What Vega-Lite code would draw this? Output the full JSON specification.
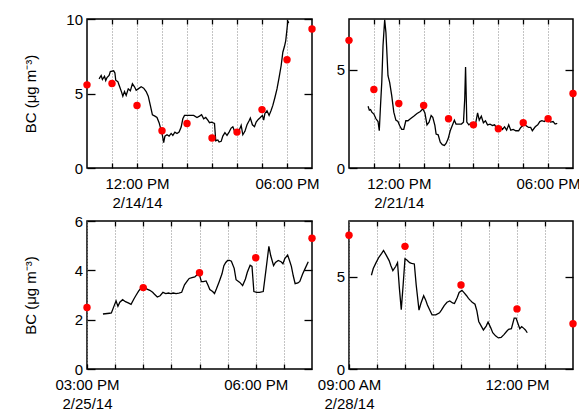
{
"$schema": "https://vega.github.io/schema/vega-lite/v6.json",
"padding": {"left": 22, "top": 11, "right": 5, "bottom": 5},
"background": "white",
"config": {
  "view": {"stroke": "black", "strokeWidth": 1.5},
  "font": "Liberation Sans",
  "axis": {"domain": false, "labelFont": "Liberation Sans", "labelFontSize": 15, "labelColor": "black", "tickColor": "black", "tickWidth": 1.3, "titleFont": "Liberation Sans", "titleFontSize": 15, "titleFontWeight": "normal", "titleColor": "black"}
},
"datasets": {
"l1": [
{"t":"2014-02-14T10:29","bc":5.98},{"t":"2014-02-14T10:34","bc":6.21},{"t":"2014-02-14T10:37","bc":5.94},{"t":"2014-02-14T10:42","bc":6.16},{"t":"2014-02-14T10:45","bc":5.87},{"t":"2014-02-14T10:48","bc":6.07},{"t":"2014-02-14T10:53","bc":6.21},{"t":"2014-02-14T10:56","bc":6.47},{"t":"2014-02-14T11:04","bc":6.52},{"t":"2014-02-14T11:07","bc":6.38},{"t":"2014-02-14T11:09","bc":5.89},{"t":"2014-02-14T11:14","bc":5.80},{"t":"2014-02-14T11:18","bc":5.49},{"t":"2014-02-14T11:23","bc":5.09},{"t":"2014-02-14T11:26","bc":4.82},{"t":"2014-02-14T11:30","bc":5.13},{"t":"2014-02-14T11:34","bc":4.87},{"t":"2014-02-14T11:39","bc":5.31},{"t":"2014-02-14T11:44","bc":5.18},{"t":"2014-02-14T11:49","bc":5.65},{"t":"2014-02-14T11:54","bc":5.45},{"t":"2014-02-14T11:58","bc":5.22},{"t":"2014-02-14T12:03","bc":5.31},{"t":"2014-02-14T12:10","bc":5.45},{"t":"2014-02-14T12:16","bc":5.36},{"t":"2014-02-14T12:22","bc":5.13},{"t":"2014-02-14T12:27","bc":4.82},{"t":"2014-02-14T12:32","bc":4.20},{"t":"2014-02-14T12:37","bc":3.57},{"t":"2014-02-14T12:43","bc":3.48},{"t":"2014-02-14T12:48","bc":3.39},{"t":"2014-02-14T12:53","bc":3.04},{"t":"2014-02-14T12:58","bc":2.52},{"t":"2014-02-14T13:01","bc":2.19},{"t":"2014-02-14T13:04","bc":1.70},{"t":"2014-02-14T13:07","bc":2.14},{"t":"2014-02-14T13:12","bc":2.23},{"t":"2014-02-14T13:17","bc":2.14},{"t":"2014-02-14T13:22","bc":2.32},{"t":"2014-02-14T13:26","bc":2.19},{"t":"2014-02-14T13:31","bc":2.41},{"t":"2014-02-14T13:36","bc":2.32},{"t":"2014-02-14T13:41","bc":2.41},{"t":"2014-02-14T13:46","bc":2.75},{"t":"2014-02-14T13:50","bc":3.30},{"t":"2014-02-14T13:54","bc":3.53},{"t":"2014-02-14T14:05","bc":3.53},{"t":"2014-02-14T14:16","bc":3.53},{"t":"2014-02-14T14:24","bc":3.39},{"t":"2014-02-14T14:30","bc":3.48},{"t":"2014-02-14T14:35","bc":3.57},{"t":"2014-02-14T14:40","bc":3.30},{"t":"2014-02-14T14:45","bc":3.39},{"t":"2014-02-14T14:50","bc":3.21},{"t":"2014-02-14T14:54","bc":3.04},{"t":"2014-02-14T14:59","bc":3.08},{"t":"2014-02-14T15:06","bc":2.99},{"t":"2014-02-14T15:09","bc":1.83},{"t":"2014-02-14T15:14","bc":1.88},{"t":"2014-02-14T15:17","bc":1.74},{"t":"2014-02-14T15:22","bc":1.79},{"t":"2014-02-14T15:26","bc":2.14},{"t":"2014-02-14T15:31","bc":2.37},{"t":"2014-02-14T15:36","bc":2.19},{"t":"2014-02-14T15:41","bc":2.41},{"t":"2014-02-14T15:46","bc":2.68},{"t":"2014-02-14T15:50","bc":2.77},{"t":"2014-02-14T15:55","bc":2.41},{"t":"2014-02-14T16:00","bc":2.32},{"t":"2014-02-14T16:05","bc":2.50},{"t":"2014-02-14T16:10","bc":2.86},{"t":"2014-02-14T16:14","bc":2.23},{"t":"2014-02-14T16:19","bc":2.46},{"t":"2014-02-14T16:24","bc":2.90},{"t":"2014-02-14T16:29","bc":3.17},{"t":"2014-02-14T16:32","bc":3.35},{"t":"2014-02-14T16:37","bc":2.90},{"t":"2014-02-14T16:42","bc":2.77},{"t":"2014-02-14T16:46","bc":3.08},{"t":"2014-02-14T16:51","bc":3.26},{"t":"2014-02-14T16:56","bc":3.39},{"t":"2014-02-14T17:01","bc":3.53},{"t":"2014-02-14T17:04","bc":3.21},{"t":"2014-02-14T17:07","bc":3.66},{"t":"2014-02-14T17:12","bc":3.84},{"t":"2014-02-14T17:17","bc":3.53},{"t":"2014-02-14T17:22","bc":3.88},{"t":"2014-02-14T17:26","bc":4.20},{"t":"2014-02-14T17:31","bc":4.73},{"t":"2014-02-14T17:36","bc":5.31},{"t":"2014-02-14T17:41","bc":6.07},{"t":"2014-02-14T17:46","bc":6.88},{"t":"2014-02-14T17:50","bc":7.77},{"t":"2014-02-14T17:54","bc":8.17},{"t":"2014-02-14T17:57","bc":8.55},{"t":"2014-02-14T18:00","bc":9.33},{"t":"2014-02-14T18:02","bc":9.87},{"t":"2014-02-14T18:04","bc":9.73}
],
"d1": [
{"t":"2014-02-14T10:00","bc":5.58},{"t":"2014-02-14T11:00","bc":5.67},{"t":"2014-02-14T12:00","bc":4.19},{"t":"2014-02-14T13:00","bc":2.5},{"t":"2014-02-14T14:00","bc":2.99},{"t":"2014-02-14T15:00","bc":2.01},{"t":"2014-02-14T16:00","bc":2.41},{"t":"2014-02-14T17:00","bc":3.92},{"t":"2014-02-14T18:00","bc":7.27},{"t":"2014-02-14T19:00","bc":9.33}
],
"l2": [
{"t":"2014-02-21T10:46","bc":3.15},{"t":"2014-02-21T10:49","bc":2.95},{"t":"2014-02-21T10:52","bc":2.98},{"t":"2014-02-21T10:55","bc":2.85},{"t":"2014-02-21T11:00","bc":2.75},{"t":"2014-02-21T11:05","bc":2.51},{"t":"2014-02-21T11:10","bc":2.37},{"t":"2014-02-21T11:13","bc":1.90},{"t":"2014-02-21T11:16","bc":3.19},{"t":"2014-02-21T11:19","bc":4.37},{"t":"2014-02-21T11:22","bc":6.24},{"t":"2014-02-21T11:26","bc":7.56},{"t":"2014-02-21T11:29","bc":6.92},{"t":"2014-02-21T11:34","bc":4.71},{"t":"2014-02-21T11:38","bc":4.37},{"t":"2014-02-21T11:43","bc":3.69},{"t":"2014-02-21T11:48","bc":2.85},{"t":"2014-02-21T11:53","bc":2.44},{"t":"2014-02-21T11:58","bc":2.37},{"t":"2014-02-21T12:02","bc":2.17},{"t":"2014-02-21T12:07","bc":1.97},{"t":"2014-02-21T12:12","bc":1.97},{"t":"2014-02-21T12:17","bc":2.41},{"t":"2014-02-21T12:22","bc":2.41},{"t":"2014-02-21T12:28","bc":2.51},{"t":"2014-02-21T12:36","bc":2.64},{"t":"2014-02-21T12:44","bc":2.78},{"t":"2014-02-21T12:52","bc":2.88},{"t":"2014-02-21T12:58","bc":3.02},{"t":"2014-02-21T13:03","bc":2.81},{"t":"2014-02-21T13:08","bc":2.20},{"t":"2014-02-21T13:13","bc":2.34},{"t":"2014-02-21T13:18","bc":2.68},{"t":"2014-02-21T13:22","bc":2.58},{"t":"2014-02-21T13:27","bc":2.17},{"t":"2014-02-21T13:30","bc":1.73},{"t":"2014-02-21T13:35","bc":1.69},{"t":"2014-02-21T13:40","bc":1.32},{"t":"2014-02-21T13:45","bc":1.19},{"t":"2014-02-21T13:50","bc":1.15},{"t":"2014-02-21T13:54","bc":1.25},{"t":"2014-02-21T13:59","bc":1.49},{"t":"2014-02-21T14:04","bc":1.90},{"t":"2014-02-21T14:09","bc":2.17},{"t":"2014-02-21T14:14","bc":2.44},{"t":"2014-02-21T14:18","bc":2.24},{"t":"2014-02-21T14:25","bc":2.24},{"t":"2014-02-21T14:31","bc":2.24},{"t":"2014-02-21T14:36","bc":2.34},{"t":"2014-02-21T14:39","bc":3.53},{"t":"2014-02-21T14:41","bc":5.15},{"t":"2014-02-21T14:44","bc":2.34},{"t":"2014-02-21T14:49","bc":2.20},{"t":"2014-02-21T14:55","bc":2.31},{"t":"2014-02-21T15:00","bc":2.20},{"t":"2014-02-21T15:05","bc":2.24},{"t":"2014-02-21T15:10","bc":2.81},{"t":"2014-02-21T15:14","bc":2.44},{"t":"2014-02-21T15:19","bc":2.64},{"t":"2014-02-21T15:24","bc":2.31},{"t":"2014-02-21T15:29","bc":2.41},{"t":"2014-02-21T15:34","bc":2.20},{"t":"2014-02-21T15:40","bc":2.24},{"t":"2014-02-21T15:46","bc":2.17},{"t":"2014-02-21T15:51","bc":2.20},{"t":"2014-02-21T15:56","bc":2.03},{"t":"2014-02-21T16:01","bc":1.97},{"t":"2014-02-21T16:06","bc":2.10},{"t":"2014-02-21T16:10","bc":1.97},{"t":"2014-02-21T16:15","bc":2.10},{"t":"2014-02-21T16:20","bc":1.93},{"t":"2014-02-21T16:25","bc":2.20},{"t":"2014-02-21T16:30","bc":1.93},{"t":"2014-02-21T16:36","bc":1.97},{"t":"2014-02-21T16:42","bc":1.90},{"t":"2014-02-21T16:49","bc":1.90},{"t":"2014-02-21T16:54","bc":2.07},{"t":"2014-02-21T17:00","bc":2.17},{"t":"2014-02-21T17:06","bc":2.17},{"t":"2014-02-21T17:13","bc":2.07},{"t":"2014-02-21T17:18","bc":2.07},{"t":"2014-02-21T17:22","bc":1.90},{"t":"2014-02-21T17:29","bc":2.10},{"t":"2014-02-21T17:35","bc":2.20},{"t":"2014-02-21T17:40","bc":2.37},{"t":"2014-02-21T17:45","bc":2.41},{"t":"2014-02-21T17:51","bc":2.37},{"t":"2014-02-21T17:56","bc":2.47},{"t":"2014-02-21T18:01","bc":2.44},{"t":"2014-02-21T18:06","bc":2.34},{"t":"2014-02-21T18:12","bc":2.37},{"t":"2014-02-21T18:17","bc":2.24},{"t":"2014-02-21T18:22","bc":2.27}
],
"d2": [
{"t":"2014-02-21T10:00","bc":6.51},{"t":"2014-02-21T11:00","bc":4.0},{"t":"2014-02-21T12:00","bc":3.29},{"t":"2014-02-21T13:00","bc":3.19},{"t":"2014-02-21T14:00","bc":2.51},{"t":"2014-02-21T15:00","bc":2.2},{"t":"2014-02-21T16:00","bc":2.0},{"t":"2014-02-21T17:00","bc":2.31},{"t":"2014-02-21T18:00","bc":2.51},{"t":"2014-02-21T19:00","bc":3.8}
],
"l3": [
{"t":"2014-02-25T15:17","bc":2.23},{"t":"2014-02-25T15:24","bc":2.26},{"t":"2014-02-25T15:26","bc":2.27},{"t":"2014-02-25T15:29","bc":2.57},{"t":"2014-02-25T15:31","bc":2.76},{"t":"2014-02-25T15:33","bc":2.54},{"t":"2014-02-25T15:35","bc":2.71},{"t":"2014-02-25T15:38","bc":2.81},{"t":"2014-02-25T15:41","bc":2.73},{"t":"2014-02-25T15:44","bc":2.68},{"t":"2014-02-25T15:47","bc":2.62},{"t":"2014-02-25T15:50","bc":2.84},{"t":"2014-02-25T15:52","bc":2.97},{"t":"2014-02-25T15:55","bc":3.16},{"t":"2014-02-25T15:58","bc":3.30},{"t":"2014-02-25T16:01","bc":3.35},{"t":"2014-02-25T16:04","bc":3.24},{"t":"2014-02-25T16:07","bc":3.19},{"t":"2014-02-25T16:10","bc":3.11},{"t":"2014-02-25T16:12","bc":3.03},{"t":"2014-02-25T16:15","bc":2.92},{"t":"2014-02-25T16:18","bc":2.97},{"t":"2014-02-25T16:21","bc":3.11},{"t":"2014-02-25T16:24","bc":3.06},{"t":"2014-02-25T16:27","bc":3.08},{"t":"2014-02-25T16:29","bc":3.06},{"t":"2014-02-25T16:32","bc":3.08},{"t":"2014-02-25T16:35","bc":3.06},{"t":"2014-02-25T16:38","bc":3.08},{"t":"2014-02-25T16:41","bc":3.11},{"t":"2014-02-25T16:44","bc":3.41},{"t":"2014-02-25T16:47","bc":3.57},{"t":"2014-02-25T16:49","bc":3.67},{"t":"2014-02-25T16:52","bc":3.70},{"t":"2014-02-25T16:55","bc":3.73},{"t":"2014-02-25T16:58","bc":3.84},{"t":"2014-02-25T17:00","bc":3.81},{"t":"2014-02-25T17:02","bc":3.54},{"t":"2014-02-25T17:04","bc":3.54},{"t":"2014-02-25T17:07","bc":3.57},{"t":"2014-02-25T17:09","bc":3.41},{"t":"2014-02-25T17:11","bc":3.22},{"t":"2014-02-25T17:14","bc":3.14},{"t":"2014-02-25T17:16","bc":3.06},{"t":"2014-02-25T17:18","bc":3.24},{"t":"2014-02-25T17:21","bc":3.54},{"t":"2014-02-25T17:24","bc":3.86},{"t":"2014-02-25T17:26","bc":4.19},{"t":"2014-02-25T17:28","bc":4.32},{"t":"2014-02-25T17:30","bc":4.40},{"t":"2014-02-25T17:32","bc":4.40},{"t":"2014-02-25T17:34","bc":4.37},{"t":"2014-02-25T17:37","bc":4.08},{"t":"2014-02-25T17:39","bc":3.62},{"t":"2014-02-25T17:43","bc":3.51},{"t":"2014-02-25T17:46","bc":3.38},{"t":"2014-02-25T17:49","bc":3.65},{"t":"2014-02-25T17:51","bc":3.92},{"t":"2014-02-25T17:54","bc":4.21},{"t":"2014-02-25T17:56","bc":4.16},{"t":"2014-02-25T17:58","bc":3.14},{"t":"2014-02-25T18:01","bc":3.11},{"t":"2014-02-25T18:04","bc":3.11},{"t":"2014-02-25T18:08","bc":3.14},{"t":"2014-02-25T18:11","bc":4.05},{"t":"2014-02-25T18:14","bc":4.97},{"t":"2014-02-25T18:16","bc":4.59},{"t":"2014-02-25T18:19","bc":4.19},{"t":"2014-02-25T18:21","bc":4.32},{"t":"2014-02-25T18:24","bc":4.40},{"t":"2014-02-25T18:27","bc":4.35},{"t":"2014-02-25T18:29","bc":4.27},{"t":"2014-02-25T18:31","bc":4.48},{"t":"2014-02-25T18:34","bc":4.62},{"t":"2014-02-25T18:36","bc":4.40},{"t":"2014-02-25T18:38","bc":4.16},{"t":"2014-02-25T18:40","bc":3.78},{"t":"2014-02-25T18:42","bc":3.46},{"t":"2014-02-25T18:45","bc":3.49},{"t":"2014-02-25T18:47","bc":3.55},{"t":"2014-02-25T18:50","bc":3.85},{"t":"2014-02-25T18:53","bc":4.10},{"t":"2014-02-25T18:56","bc":4.35}
],
"d3": [
{"t":"2014-02-25T15:00","bc":2.49},{"t":"2014-02-25T16:00","bc":3.3},{"t":"2014-02-25T17:00","bc":3.9},{"t":"2014-02-25T18:00","bc":4.51},{"t":"2014-02-25T19:00","bc":5.3}
],
"l4": [
{"t":"2014-02-28T09:24","bc":5.07},{"t":"2014-02-28T09:26","bc":5.43},{"t":"2014-02-28T09:29","bc":5.75},{"t":"2014-02-28T09:32","bc":6.04},{"t":"2014-02-28T09:35","bc":6.25},{"t":"2014-02-28T09:37","bc":6.41},{"t":"2014-02-28T09:40","bc":6.14},{"t":"2014-02-28T09:43","bc":5.86},{"t":"2014-02-28T09:45","bc":5.57},{"t":"2014-02-28T09:47","bc":5.32},{"t":"2014-02-28T09:50","bc":5.54},{"t":"2014-02-28T09:52","bc":5.75},{"t":"2014-02-28T09:54","bc":4.36},{"t":"2014-02-28T09:56","bc":3.21},{"t":"2014-02-28T09:58","bc":4.54},{"t":"2014-02-28T10:00","bc":5.96},{"t":"2014-02-28T10:02","bc":5.89},{"t":"2014-02-28T10:05","bc":5.75},{"t":"2014-02-28T10:07","bc":5.71},{"t":"2014-02-28T10:10","bc":5.68},{"t":"2014-02-28T10:12","bc":4.54},{"t":"2014-02-28T10:15","bc":3.18},{"t":"2014-02-28T10:17","bc":3.54},{"t":"2014-02-28T10:20","bc":3.96},{"t":"2014-02-28T10:22","bc":3.75},{"t":"2014-02-28T10:24","bc":3.46},{"t":"2014-02-28T10:27","bc":3.14},{"t":"2014-02-28T10:29","bc":2.93},{"t":"2014-02-28T10:33","bc":2.93},{"t":"2014-02-28T10:37","bc":3.04},{"t":"2014-02-28T10:39","bc":3.18},{"t":"2014-02-28T10:42","bc":3.43},{"t":"2014-02-28T10:45","bc":3.61},{"t":"2014-02-28T10:48","bc":3.68},{"t":"2014-02-28T10:51","bc":3.57},{"t":"2014-02-28T10:53","bc":3.54},{"t":"2014-02-28T10:56","bc":3.86},{"t":"2014-02-28T10:58","bc":4.14},{"t":"2014-02-28T11:01","bc":4.25},{"t":"2014-02-28T11:03","bc":4.14},{"t":"2014-02-28T11:06","bc":3.96},{"t":"2014-02-28T11:08","bc":3.82},{"t":"2014-02-28T11:10","bc":3.71},{"t":"2014-02-28T11:12","bc":3.61},{"t":"2014-02-28T11:15","bc":3.50},{"t":"2014-02-28T11:17","bc":3.14},{"t":"2014-02-28T11:19","bc":2.57},{"t":"2014-02-28T11:22","bc":2.29},{"t":"2014-02-28T11:24","bc":2.11},{"t":"2014-02-28T11:27","bc":2.32},{"t":"2014-02-28T11:29","bc":2.54},{"t":"2014-02-28T11:32","bc":2.21},{"t":"2014-02-28T11:34","bc":1.96},{"t":"2014-02-28T11:37","bc":1.79},{"t":"2014-02-28T11:40","bc":1.68},{"t":"2014-02-28T11:43","bc":1.71},{"t":"2014-02-28T11:46","bc":1.86},{"t":"2014-02-28T11:49","bc":2.04},{"t":"2014-02-28T11:51","bc":2.14},{"t":"2014-02-28T11:54","bc":2.18},{"t":"2014-02-28T11:57","bc":2.75},{"t":"2014-02-28T11:59","bc":2.75},{"t":"2014-02-28T12:01","bc":2.46},{"t":"2014-02-28T12:03","bc":2.18},{"t":"2014-02-28T12:05","bc":2.29},{"t":"2014-02-28T12:07","bc":2.21},{"t":"2014-02-28T12:09","bc":2.11},{"t":"2014-02-28T12:11","bc":1.96}
],
"d4": [
{"t":"2014-02-28T09:00","bc":7.23},{"t":"2014-02-28T10:00","bc":6.63},{"t":"2014-02-28T11:00","bc":4.54},{"t":"2014-02-28T12:00","bc":3.25},{"t":"2014-02-28T13:00","bc":2.45}
]
},
"concat": [
{
 "width": 225, "height": 149,
 "resolve": {"axis": {"x": "independent", "y": "independent"}},
 "layer": [
  {"data": {"name": "l1"}, "mark": {"type": "line", "color": "black", "strokeWidth": 1.3},
   "encoding": {
    "x": {"field": "t", "type": "temporal", "scale": {"domain": [{"year": 2014, "month": 2, "date": 14, "hours": 10}, {"year": 2014, "month": 2, "date": 14, "hours": 19}], "nice": false},
      "axis": {"orient": "bottom", "title": null, "values": [{"year": 2014, "month": 2, "date": 14, "hours": 11}, {"year": 2014, "month": 2, "date": 14, "hours": 12}, {"year": 2014, "month": 2, "date": 14, "hours": 13}, {"year": 2014, "month": 2, "date": 14, "hours": 14}, {"year": 2014, "month": 2, "date": 14, "hours": 15}, {"year": 2014, "month": 2, "date": 14, "hours": 16}, {"year": 2014, "month": 2, "date": 14, "hours": 17}, {"year": 2014, "month": 2, "date": 14, "hours": 18}],
        "grid": true, "gridDash": [1, 2], "gridColor": "#888", "gridWidth": 1, "tickSize": -5, "labelPadding": 13, "labelFlush": false, "labelOverlap": false, "labelLineHeight": 19,
        "labelExpr": "timeFormat(datum.value, '%H:%M') == '12:00' ? ['12:00 PM', '2/14/14'] : (timeFormat(datum.value, '%H:%M') == '18:00' ? '06:00 PM' : '')"}},
    "y": {"field": "bc", "type": "quantitative", "scale": {"domain": [0, 10], "nice": false},
      "axis": {"orient": "left", "title": "BC (μg m⁻³)", "values": [0, 5, 10], "grid": false, "tickSize": -8, "labelPadding": 12.5, "minExtent": 25, "maxExtent": 25, "titlePadding": 24}}
   }},
  {"data": {"name": "d1"}, "mark": {"type": "circle", "color": "#ff0000", "size": 55, "opacity": 1},
   "encoding": {
    "x": {"field": "t", "type": "temporal", "axis": {"orient": "top", "title": null, "labels": false, "grid": false, "tickSize": -5, "values": [{"year": 2014, "month": 2, "date": 14, "hours": 11}, {"year": 2014, "month": 2, "date": 14, "hours": 12}, {"year": 2014, "month": 2, "date": 14, "hours": 13}, {"year": 2014, "month": 2, "date": 14, "hours": 14}, {"year": 2014, "month": 2, "date": 14, "hours": 15}, {"year": 2014, "month": 2, "date": 14, "hours": 16}, {"year": 2014, "month": 2, "date": 14, "hours": 17}, {"year": 2014, "month": 2, "date": 14, "hours": 18}]}},
    "y": {"field": "bc", "type": "quantitative", "axis": {"orient": "right", "title": null, "labels": false, "grid": false, "tickSize": -8, "values": [0, 5, 10]}}
   }}
 ]
},
{
 "width": 224, "height": 149,
 "resolve": {"axis": {"x": "independent", "y": "independent"}},
 "layer": [
  {"data": {"name": "l2"}, "mark": {"type": "line", "color": "black", "strokeWidth": 1.3},
   "encoding": {
    "x": {"field": "t", "type": "temporal", "scale": {"domain": [{"year": 2014, "month": 2, "date": 21, "hours": 10}, {"year": 2014, "month": 2, "date": 21, "hours": 19}], "nice": false},
      "axis": {"orient": "bottom", "title": null, "values": [{"year": 2014, "month": 2, "date": 21, "hours": 11}, {"year": 2014, "month": 2, "date": 21, "hours": 12}, {"year": 2014, "month": 2, "date": 21, "hours": 13}, {"year": 2014, "month": 2, "date": 21, "hours": 14}, {"year": 2014, "month": 2, "date": 21, "hours": 15}, {"year": 2014, "month": 2, "date": 21, "hours": 16}, {"year": 2014, "month": 2, "date": 21, "hours": 17}, {"year": 2014, "month": 2, "date": 21, "hours": 18}],
        "grid": true, "gridDash": [1, 2], "gridColor": "#888", "gridWidth": 1, "tickSize": -5, "labelPadding": 13, "labelFlush": false, "labelOverlap": false, "labelLineHeight": 19,
        "labelExpr": "timeFormat(datum.value, '%H:%M') == '12:00' ? ['12:00 PM', '2/21/14'] : (timeFormat(datum.value, '%H:%M') == '18:00' ? '06:00 PM' : '')"}},
    "y": {"field": "bc", "type": "quantitative", "scale": {"domain": [0, 7.6], "nice": false},
      "axis": {"orient": "left", "title": null, "values": [0, 5], "grid": false, "tickSize": -8, "labelPadding": 12.5}}
   }},
  {"data": {"name": "d2"}, "mark": {"type": "circle", "color": "#ff0000", "size": 55, "opacity": 1},
   "encoding": {
    "x": {"field": "t", "type": "temporal", "axis": {"orient": "top", "title": null, "labels": false, "grid": false, "tickSize": -5, "values": [{"year": 2014, "month": 2, "date": 21, "hours": 11}, {"year": 2014, "month": 2, "date": 21, "hours": 12}, {"year": 2014, "month": 2, "date": 21, "hours": 13}, {"year": 2014, "month": 2, "date": 21, "hours": 14}, {"year": 2014, "month": 2, "date": 21, "hours": 15}, {"year": 2014, "month": 2, "date": 21, "hours": 16}, {"year": 2014, "month": 2, "date": 21, "hours": 17}, {"year": 2014, "month": 2, "date": 21, "hours": 18}]}},
    "y": {"field": "bc", "type": "quantitative", "axis": {"orient": "right", "title": null, "labels": false, "grid": false, "tickSize": -8, "values": [0, 5]}}
   }}
 ]
},
{
 "width": 225, "height": 148,
 "resolve": {"axis": {"x": "independent", "y": "independent"}},
 "layer": [
  {"data": {"name": "l3"}, "mark": {"type": "line", "color": "black", "strokeWidth": 1.3},
   "encoding": {
    "x": {"field": "t", "type": "temporal", "scale": {"domain": [{"year": 2014, "month": 2, "date": 25, "hours": 15}, {"year": 2014, "month": 2, "date": 25, "hours": 19}], "nice": false},
      "axis": {"orient": "bottom", "title": null, "values": [{"year": 2014, "month": 2, "date": 25, "hours": 15}, {"year": 2014, "month": 2, "date": 25, "hours": 15, "minutes": 30}, {"year": 2014, "month": 2, "date": 25, "hours": 16}, {"year": 2014, "month": 2, "date": 25, "hours": 16, "minutes": 30}, {"year": 2014, "month": 2, "date": 25, "hours": 17}, {"year": 2014, "month": 2, "date": 25, "hours": 17, "minutes": 30}, {"year": 2014, "month": 2, "date": 25, "hours": 18}, {"year": 2014, "month": 2, "date": 25, "hours": 18, "minutes": 30}],
        "grid": true, "gridDash": [1, 2], "gridColor": "#888", "gridWidth": 1, "tickSize": -5, "labelPadding": 13, "labelFlush": false, "labelOverlap": false, "labelLineHeight": 19,
        "labelExpr": "timeFormat(datum.value, '%H:%M') == '15:00' ? ['03:00 PM', '2/25/14'] : (timeFormat(datum.value, '%H:%M') == '18:00' ? '06:00 PM' : '')"}},
    "y": {"field": "bc", "type": "quantitative", "scale": {"domain": [0, 6], "nice": false},
      "axis": {"orient": "left", "title": "BC (μg m⁻³)", "values": [0, 2, 4, 6], "grid": false, "tickSize": -8, "labelPadding": 12.5, "minExtent": 25, "maxExtent": 25, "titlePadding": 24}}
   }},
  {"data": {"name": "d3"}, "mark": {"type": "circle", "color": "#ff0000", "size": 55, "opacity": 1},
   "encoding": {
    "x": {"field": "t", "type": "temporal", "axis": {"orient": "top", "title": null, "labels": false, "grid": false, "tickSize": -5, "values": [{"year": 2014, "month": 2, "date": 25, "hours": 15, "minutes": 30}, {"year": 2014, "month": 2, "date": 25, "hours": 16}, {"year": 2014, "month": 2, "date": 25, "hours": 16, "minutes": 30}, {"year": 2014, "month": 2, "date": 25, "hours": 17}, {"year": 2014, "month": 2, "date": 25, "hours": 17, "minutes": 30}, {"year": 2014, "month": 2, "date": 25, "hours": 18}, {"year": 2014, "month": 2, "date": 25, "hours": 18, "minutes": 30}]}},
    "y": {"field": "bc", "type": "quantitative", "axis": {"orient": "right", "title": null, "labels": false, "grid": false, "tickSize": -8, "values": [0, 2, 4, 6]}}
   }}
 ]
},
{
 "width": 224, "height": 148,
 "resolve": {"axis": {"x": "independent", "y": "independent"}},
 "layer": [
  {"data": {"name": "l4"}, "mark": {"type": "line", "color": "black", "strokeWidth": 1.3},
   "encoding": {
    "x": {"field": "t", "type": "temporal", "scale": {"domain": [{"year": 2014, "month": 2, "date": 28, "hours": 9}, {"year": 2014, "month": 2, "date": 28, "hours": 13}], "nice": false},
      "axis": {"orient": "bottom", "title": null, "values": [{"year": 2014, "month": 2, "date": 28, "hours": 9}, {"year": 2014, "month": 2, "date": 28, "hours": 9, "minutes": 30}, {"year": 2014, "month": 2, "date": 28, "hours": 10}, {"year": 2014, "month": 2, "date": 28, "hours": 10, "minutes": 30}, {"year": 2014, "month": 2, "date": 28, "hours": 11}, {"year": 2014, "month": 2, "date": 28, "hours": 11, "minutes": 30}, {"year": 2014, "month": 2, "date": 28, "hours": 12}, {"year": 2014, "month": 2, "date": 28, "hours": 12, "minutes": 30}],
        "grid": true, "gridDash": [1, 2], "gridColor": "#888", "gridWidth": 1, "tickSize": -5, "labelPadding": 13, "labelFlush": false, "labelOverlap": false, "labelLineHeight": 19,
        "labelExpr": "timeFormat(datum.value, '%H:%M') == '09:00' ? ['09:00 AM', '2/28/14'] : (timeFormat(datum.value, '%H:%M') == '12:00' ? '12:00 PM' : '')"}},
    "y": {"field": "bc", "type": "quantitative", "scale": {"domain": [0, 8], "nice": false},
      "axis": {"orient": "left", "title": null, "values": [0, 5], "grid": false, "tickSize": -8, "labelPadding": 12.5}}
   }},
  {"data": {"name": "d4"}, "mark": {"type": "circle", "color": "#ff0000", "size": 55, "opacity": 1},
   "encoding": {
    "x": {"field": "t", "type": "temporal", "axis": {"orient": "top", "title": null, "labels": false, "grid": false, "tickSize": -5, "values": [{"year": 2014, "month": 2, "date": 28, "hours": 9, "minutes": 30}, {"year": 2014, "month": 2, "date": 28, "hours": 10}, {"year": 2014, "month": 2, "date": 28, "hours": 10, "minutes": 30}, {"year": 2014, "month": 2, "date": 28, "hours": 11}, {"year": 2014, "month": 2, "date": 28, "hours": 11, "minutes": 30}, {"year": 2014, "month": 2, "date": 28, "hours": 12}, {"year": 2014, "month": 2, "date": 28, "hours": 12, "minutes": 30}]}},
    "y": {"field": "bc", "type": "quantitative", "axis": {"orient": "right", "title": null, "labels": false, "grid": false, "tickSize": -8, "values": [0, 5]}}
   }}
 ]
}
],
"columns": 2,
"spacing": {"row": 53, "column": 37},
"bounds": "flush"
}
